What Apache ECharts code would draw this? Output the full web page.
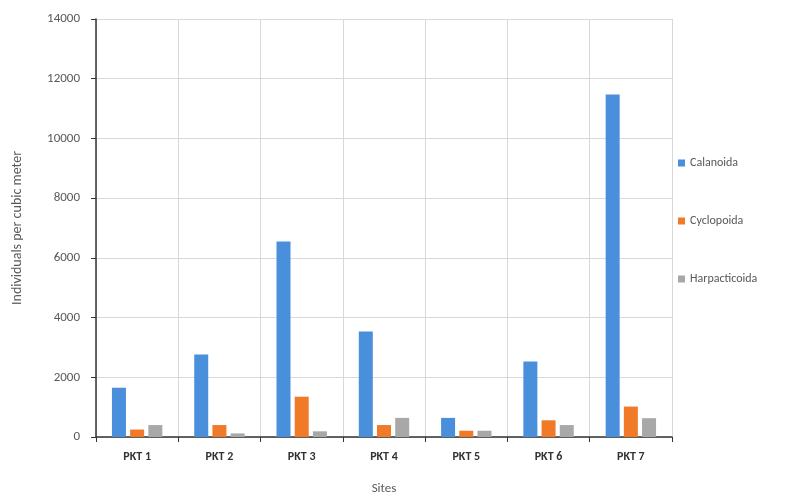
<!DOCTYPE html>
<html><head><meta charset="utf-8">
<script src="https://cdn.jsdelivr.net/npm/echarts@6/dist/echarts.min.js"></script>
<style>html,body{margin:0;padding:0;background:#fff}#c{width:809px;height:500px}</style>
</head><body><div id="c"></div>
<script>
const categories = ['PKT 1','PKT 2','PKT 3','PKT 4','PKT 5','PKT 6','PKT 7'];
const calanoida = [1650, 2760, 6550, 3530, 640, 2530, 11470];
const cyclopoida = [250, 400, 1350, 400, 210, 560, 1020];
const harpacticoida = [400, 120, 190, 640, 210, 400, 630];
const yTicks = [0, 2000, 4000, 6000, 8000, 10000, 12000, 14000];

const chart = echarts.init(document.getElementById('c'));
const font = 'Calibri, Carlito, "Open Sans", "Liberation Sans", Arial, sans-serif';
const mk = (name, data, color) => ({
  name, type: 'bar', data, barWidth: 14, barGap: '30%',
  itemStyle: { color }
});
chart.setOption({
  animation: false,
  grid: { left: 96, right: 137, top: 19, bottom: 61 },
  legend: {
    orient: 'vertical', left: 673, top: 152, itemGap: 46,
    itemWidth: 7, itemHeight: 7, icon: 'rect',
    textStyle: { color: '#595959', fontSize: 12, fontFamily: font }
  },
  xAxis: {
    type: 'category', data: categories,
    name: 'Sites', nameLocation: 'middle', nameGap: 45,
    nameTextStyle: { color: '#595959', fontSize: 13, fontFamily: font },
    axisLine: { lineStyle: { color: '#333', width: 1.5 } },
    axisTick: { show: true, length: 5, lineStyle: { color: '#333' } },
    axisLabel: { color: '#333', fontWeight: 'bold', fontSize: 12, margin: 14, fontFamily: font },
    splitLine: { show: true, lineStyle: { color: '#d9d9d9' } }
  },
  yAxis: {
    type: 'value', min: yTicks[0], max: yTicks[yTicks.length - 1], interval: 2000,
    name: 'Individuals per cubic meter', nameLocation: 'middle', nameGap: 72,
    nameTextStyle: { color: '#595959', fontSize: 14, fontFamily: font },
    axisLine: { show: true, lineStyle: { color: '#333', width: 1.5 } },
    axisTick: { show: true, length: 5, lineStyle: { color: '#333' } },
    axisLabel: { color: '#595959', fontSize: 13, margin: 16, fontFamily: font,
      formatter: v => String(v) },
    splitLine: { lineStyle: { color: '#d9d9d9' } }
  },
  series: [
    mk('Calanoida', calanoida, '#4a8fdc'),
    mk('Cyclopoida', cyclopoida, '#f07a28'),
    mk('Harpacticoida', harpacticoida, '#a8a8a8')
  ]
});
</script></body></html>
